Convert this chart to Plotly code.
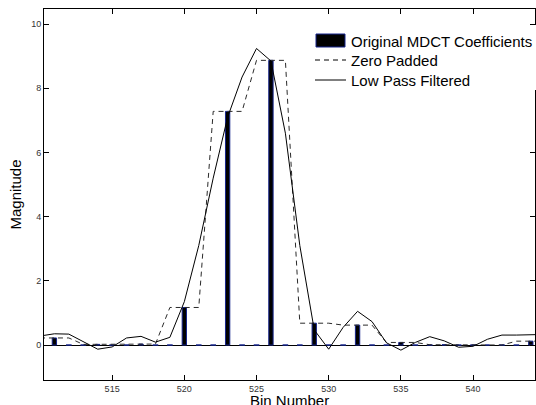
import plotly.graph_objects as go

# ---- data ----
bins = list(range(510, 546))

low_pass = [0.28, 0.35, 0.34, 0.10, -0.13, -0.06, 0.22, 0.27, 0.09, 0.24,
            1.35, 3.10, 5.20, 7.10, 8.35, 9.24, 8.85, 6.60, 3.10, 0.47,
            -0.13, 0.55, 1.05, 0.73, 0.07, -0.16, 0.08, 0.26, 0.13, -0.07,
            -0.04, 0.18, 0.31, 0.31, 0.32, 0.33]

zero_padded = [0.22, 0.22, 0.22, 0.02, 0.02, 0.02, 0.03, 0.03, 0.03, 1.17,
               1.17, 1.17, 7.28, 7.28, 7.28, 8.87, 8.87, 8.87, 0.68, 0.68,
               0.68, 0.62, 0.62, 0.62, 0.08, 0.08, 0.08, 0.01, 0.01, 0.01,
               0.00, 0.00, 0.00, 0.12, 0.12, 0.12]

coef_bins = [511, 514, 517, 520, 523, 526, 529, 532, 535, 538, 541, 544]
coef_values = [0.22, 0.02, 0.03, 1.17, 7.28, 8.87, 0.68, 0.62, 0.08, 0.01, 0.00, 0.12]

x_ticks = [515, 520, 525, 530, 535, 540]
y_ticks = [0, 2, 4, 6, 8, 10]

legend_labels = ["Original MDCT Coefficients", "Zero Padded", "Low Pass Filtered"]
x_title = "Bin Number"
y_title = "Magnitude"

# zero entries of the zero-padded coefficient array (drawn as flat bars at 0)
zero_bins = [b for b in bins if b not in coef_bins]

BAR_EDGE = "#16258c"
FONT = "Liberation Sans, Arial, Helvetica, sans-serif"

W, H = 536, 405
ML, MR, MT, MB = 44, 1, 9, 25
PW, PH = W - ML - MR, H - MT - MB


def px(xp):
    return (xp - ML) / PW


def py(yp):
    return (H - MB - yp) / PH


fig = go.Figure()

fig.add_trace(go.Bar(
    x=coef_bins, y=coef_values, width=0.3,
    marker=dict(color="black", line=dict(color=BAR_EDGE, width=1)),
    name=legend_labels[0], showlegend=False,
))
fig.add_trace(go.Scatter(
    x=zero_bins, y=[0] * len(zero_bins), mode="markers",
    marker=dict(symbol="line-ew", size=4, line=dict(color=BAR_EDGE, width=1.5)),
    showlegend=False, hoverinfo="skip",
))
fig.add_trace(go.Scatter(
    x=bins, y=zero_padded, mode="lines",
    line=dict(color="#2a2a2a", width=1, dash="5px,4px"),
    name=legend_labels[1], showlegend=False,
))
fig.add_trace(go.Scatter(
    x=bins, y=low_pass, mode="lines",
    line=dict(color="black", width=1),
    name=legend_labels[2], showlegend=False,
))

# ---- legend drawn like the MATLAB one ----
shapes = [
    dict(type="rect", xref="paper", yref="paper", layer="above",
         x0=px(309), x1=px(537), y0=py(90), y1=py(25),
         fillcolor="white", line=dict(width=0)),
    dict(type="rect", xref="paper", yref="paper", layer="above",
         x0=px(316), x1=px(345), y0=py(47), y1=py(34),
         fillcolor="black", line=dict(color=BAR_EDGE, width=1)),
    dict(type="line", xref="paper", yref="paper", layer="above",
         x0=px(315), x1=px(346), y0=py(60), y1=py(60),
         line=dict(color="black", width=1, dash="5px,4px")),
    dict(type="line", xref="paper", yref="paper", layer="above",
         x0=px(315), x1=px(346), y0=py(80), y1=py(80),
         line=dict(color="black", width=1)),
]
annotations = []
for label, yc in zip(legend_labels, [41.5, 60.5, 80.5]):
    annotations.append(dict(
        text=label, xref="paper", yref="paper", x=px(349), y=py(yc),
        xanchor="left", yanchor="middle", showarrow=False,
        font=dict(family=FONT, size=15, color="black"),
    ))
# x-axis title, sitting at the bottom edge as in the original
annotations.append(dict(
    text=x_title, xref="paper", yref="paper", x=0.5, y=py(400.5),
    xanchor="center", yanchor="middle", showarrow=False,
    font=dict(family=FONT, size=15, color="black"),
))

axis_common = dict(
    showline=True, linecolor="black", linewidth=1, mirror="ticks",
    ticks="inside", ticklen=5, tickwidth=1, tickcolor="black",
    showgrid=False, automargin=False,
    tickfont=dict(family=FONT, size=9, color="#333333"),
)

fig.update_layout(
    width=W, height=H,
    margin=dict(l=ML, r=MR, t=MT, b=MB),
    paper_bgcolor="white", plot_bgcolor="white",
    font=dict(family=FONT, size=15, color="black"),
    barmode="overlay",
    showlegend=False,
    shapes=shapes,
    annotations=annotations,
    xaxis=dict(
        range=[510.28, 544.29], tickvals=x_ticks,
        zeroline=False, **axis_common,
    ),
    yaxis=dict(
        range=[-1.09, 10.47], tickvals=y_ticks,
        title=dict(text=y_title, standoff=5, font=dict(size=15)),
        zeroline=True, zerolinecolor="black", zerolinewidth=1,
        **axis_common,
    ),
)

post = ("document.body.style.margin='0';"
        "document.documentElement.style.overflow='hidden';"
        "document.body.style.overflow='hidden';")

fig.write_html("out.html", post_script=post, config={"displayModeBar": False})
